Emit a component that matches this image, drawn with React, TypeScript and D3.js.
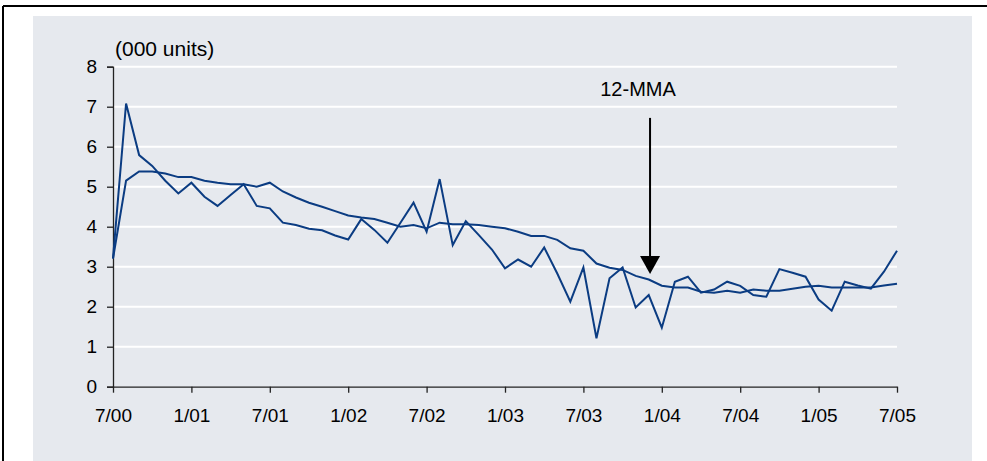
import React, { useEffect, useRef } from "react";
import * as d3 from "d3";

// monthly units (000), 7/00 .. 7/05
const monthly = [
  3.21, 7.08, 5.79, 5.52, 5.15, 4.83, 5.1, 4.75, 4.52, 4.79, 5.06, 4.52, 4.46,
  4.1, 4.04, 3.95, 3.91, 3.78, 3.68, 4.19, 3.92, 3.6, 4.1, 4.6, 3.875, 5.19,
  3.54, 4.14, 3.79, 3.43, 2.96, 3.18, 3.0, 3.48, 2.83, 2.125, 2.98, 1.21, 2.71,
  2.98, 1.98, 2.29, 1.475, 2.625, 2.75, 2.35, 2.43, 2.625, 2.52, 2.29, 2.25,
  2.94, 2.85, 2.75, 2.18, 1.9, 2.625, 2.53, 2.45, 2.875, 3.4,
];

// 12-month moving average
const mma12 = [
  3.2, 5.15, 5.38, 5.38, 5.33, 5.24, 5.24, 5.15, 5.1, 5.06, 5.06, 5.0, 5.1,
  4.88, 4.73, 4.6, 4.5, 4.39, 4.28, 4.23, 4.19, 4.1, 4.0, 4.04, 3.96, 4.1, 4.06,
  4.06, 4.04, 4.0, 3.96, 3.875, 3.77, 3.77, 3.67, 3.46, 3.4, 3.08, 2.975, 2.92,
  2.77, 2.68, 2.525, 2.48, 2.48, 2.375, 2.35, 2.4, 2.35, 2.43, 2.4, 2.4, 2.45,
  2.5, 2.525, 2.48, 2.48, 2.48, 2.48, 2.53, 2.575,
];

const xTickLabels = ["7/00", "1/01", "7/01", "1/02", "7/02", "1/03", "7/03", "1/04", "7/04", "1/05", "7/05"];
const yTicks = [0, 1, 2, 3, 4, 5, 6, 7, 8];

// annotation points at 12/03 (month index 41)
const arrowMonth = 41.1;
const arrowTop = 6.72;
const arrowTip = 2.82;

const width = 987;
const height = 461;
const margin = { top: 66.7, right: 90, bottom: 74.3, left: 113 };
const font = "'Liberation Sans', Arial, sans-serif";
const lineColor = "#0b3c82";

function App() {
  const svgRef = useRef<SVGSVGElement>(null);

  useEffect(() => {
    if (!svgRef.current) return;
    const svg = d3.select(svgRef.current);
    svg.selectAll("*").remove();

    // frame + panel
    svg.append("rect").attr("width", width).attr("height", height).attr("fill", "white");
    svg.append("rect").attr("x", 33).attr("y", 16).attr("width", 939).attr("height", height - 16).attr("fill", "#e6e9ee");
    svg.append("line").attr("x1", 3).attr("x2", width).attr("y1", 6).attr("y2", 6).attr("stroke", "black").attr("stroke-width", 2);
    svg.append("line").attr("x1", 3).attr("x2", 3).attr("y1", 6).attr("y2", height).attr("stroke", "black").attr("stroke-width", 2);

    const x = d3
      .scaleLinear()
      .domain([0, monthly.length - 1])
      .range([margin.left, width - margin.right]);
    const y = d3
      .scaleLinear()
      .domain([0, 8])
      .range([height - margin.bottom, margin.top]);

    // gridlines
    svg
      .append("g")
      .selectAll("line")
      .data(yTicks.filter((t) => t > 0))
      .enter()
      .append("line")
      .attr("x1", x(0))
      .attr("x2", x(monthly.length - 1))
      .attr("y1", (d) => y(d))
      .attr("y2", (d) => y(d))
      .attr("stroke", "white")
      .attr("stroke-width", 2);

    // y axis
    const yAxis = svg
      .append("g")
      .attr("transform", `translate(${x(0)},0)`)
      .call(d3.axisLeft(y).tickValues(yTicks).tickSize(6).tickPadding(10).tickFormat(d3.format("d")));
    yAxis.select(".domain").attr("stroke", "#222").attr("stroke-width", 1.3);
    yAxis.selectAll(".tick line").attr("stroke", "#222").attr("stroke-width", 1.3);
    yAxis.selectAll("text").attr("font-family", font).attr("font-size", 19).attr("fill", "black");

    // x axis
    const xAxis = svg
      .append("g")
      .attr("transform", `translate(0,${y(0)})`)
      .call(
        d3
          .axisBottom(x)
          .tickValues(xTickLabels.map((_, i) => i * 6))
          .tickSize(6)
          .tickSizeOuter(0)
          .tickPadding(16)
          .tickFormat((_, i) => xTickLabels[i])
      );
    xAxis.select(".domain").attr("stroke", "#222").attr("stroke-width", 1.3);
    xAxis.selectAll(".tick line").attr("stroke", "#222").attr("stroke-width", 1.3);
    xAxis.selectAll("text").attr("font-family", font).attr("font-size", 19).attr("fill", "black");

    // series
    const line = d3
      .line<number>()
      .x((_, i) => x(i))
      .y((d) => y(d));

    [mma12, monthly].forEach((s) => {
      svg
        .append("path")
        .datum(s)
        .attr("d", line)
        .attr("fill", "none")
        .attr("stroke", lineColor)
        .attr("stroke-width", 2)
        .attr("stroke-linejoin", "miter");
    });

    // unit label
    svg
      .append("text")
      .attr("x", x(0) + 2)
      .attr("y", 56)
      .attr("font-family", font)
      .attr("font-size", 21)
      .text("(000 units)");

    // 12-MMA annotation with arrow
    const ax = x(arrowMonth);
    svg
      .append("text")
      .attr("x", ax - 12)
      .attr("y", 96)
      .attr("text-anchor", "middle")
      .attr("font-family", font)
      .attr("font-size", 20)
      .text("12-MMA");
    svg
      .append("line")
      .attr("x1", ax)
      .attr("x2", ax)
      .attr("y1", y(arrowTop))
      .attr("y2", y(arrowTip) - 16)
      .attr("stroke", "black")
      .attr("stroke-width", 2);
    svg
      .append("path")
      .attr("d", `M${ax - 10},${y(arrowTip) - 18}L${ax + 10},${y(arrowTip) - 18}L${ax},${y(arrowTip)}Z`)
      .attr("fill", "black");
  }, []);

  return (
    <svg
      ref={svgRef}
      width={width}
      height={height}
      style={{ position: "absolute", left: 0, top: 0 }}
    ></svg>
  );
}

export default App;
